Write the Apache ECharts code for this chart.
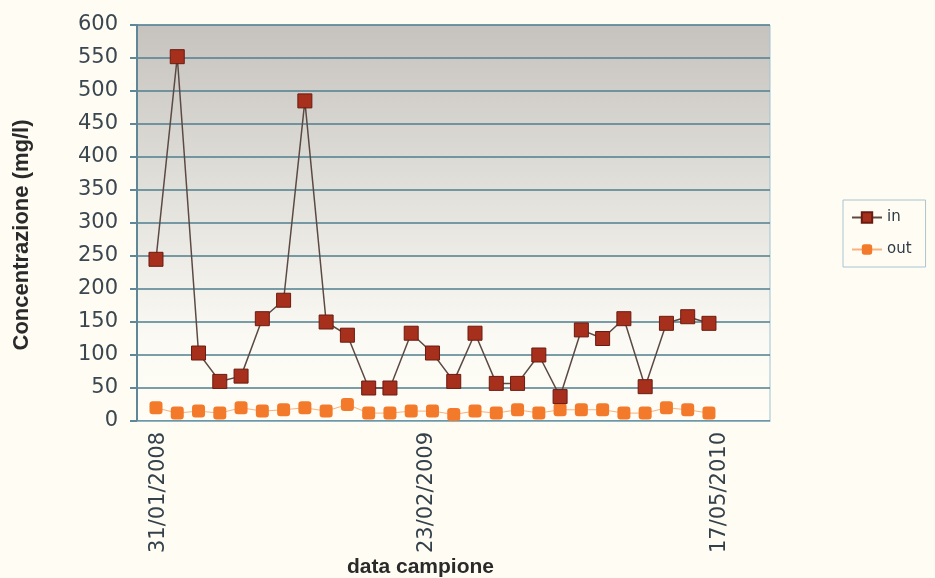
<!DOCTYPE html>
<html>
<head>
<meta charset="utf-8">
<script src="https://cdn.jsdelivr.net/npm/echarts@6/dist/echarts.min.js"></script>
<style>
html,body{margin:0;padding:0;background:#fffdf3;}
#c{width:935px;height:578px;}
</style>
</head>
<body>
<div id="c"></div>
<script>
var inValues = [245, 552, 103, 60, 68, 155, 183, 485, 150, 130, 50, 50, 133, 103, 60, 133, 57, 57, 100, 37, 138, 125, 155, 52, 148, 158, 148];
var outValues = [20, 12, 15, 12, 20, 15, 17, 20, 15, 25, 12, 12, 15, 15, 10, 15, 12, 17, 12, 17, 17, 17, 12, 12, 20, 17, 12];
var dateLabelIndex = [0.1, 12.72, 26.52];
var dateLabels = ['31/01/2008', '23/02/2009', '17/05/2010'];
var yTicks = [0, 50, 100, 150, 200, 250, 300, 350, 400, 450, 500, 550, 600];

var inData = inValues.map(function (v, i) { return [i, v]; });
var outData = outValues.map(function (v, i) { return [i, v]; });

var chart = echarts.init(document.getElementById('c'));
chart.setOption({
  backgroundColor: '#fffdf3',
  animation: false,
  grid: {
    left: 137, top: 25, right: 165, bottom: 157,
    outerBoundsMode: 'none',
    containLabel: false,
    show: true,
    borderColor: '#9fc3d3',
    borderWidth: 1,
    backgroundColor: new echarts.graphic.LinearGradient(0, 0, 0, 1, [
      { offset: 0, color: '#c6c3bf' },
      { offset: 0.45, color: '#e4e2dd' },
      { offset: 0.8, color: '#fbfaf4' },
      { offset: 1, color: '#fffdf5' }
    ])
  },
  legend: {
    left: 843, top: 200,
    orient: 'vertical',
    itemWidth: 30, itemHeight: 13,
    itemGap: 17,
    padding: [10, 14, 10, 8],
    borderColor: '#a8c4d0',
    borderWidth: 1,
    textStyle: { fontFamily: 'DejaVu Sans', fontSize: 15, color: '#2f3a44' },
    data: ['in', 'out']
  },
  xAxis: {
    type: 'value',
    min: -0.893,
    max: 28.87,
    name: 'data campione',
    nameLocation: 'middle',
    nameGap: 136,
    nameMoveOverlap: false,
    nameTextStyle: { fontFamily: 'Liberation Sans', fontWeight: 'bold', fontSize: 21, color: '#2a2a2a', padding: [0, 66, 0, 0] },
    splitLine: { show: false },
    axisLine: { show: true, onZero: false, lineStyle: { color: '#8fb4c4', width: 1 } },
    axisTick: { show: false },
    axisLabel: {
      customValues: dateLabelIndex,
      rotate: 90,
      margin: 11,
      fontFamily: 'DejaVu Sans',
      fontSize: 21,
      color: '#34414b',
      formatter: function (v) {
        for (var k = 0; k < dateLabelIndex.length; k++) {
          if (Math.abs(dateLabelIndex[k] - v) < 0.01) return dateLabels[k];
        }
        return '';
      }
    }
  },
  yAxis: {
    type: 'value',
    min: 0, max: 600, interval: 50,
    name: 'Concentrazione (mg/l)',
    nameLocation: 'middle',
    nameGap: 104,
    nameMoveOverlap: false,
    nameTextStyle: { fontFamily: 'Liberation Sans', fontWeight: 'bold', fontSize: 22, color: '#2a2a2a', padding: [0, 24, 0, 0] },
    axisLine: { show: true, onZero: false, lineStyle: { color: '#5f8798', width: 2 } },
    axisTick: { show: true, length: 7, lineStyle: { color: '#5f8798', width: 2 } },
    axisLabel: {
      margin: 19,
      fontFamily: 'DejaVu Sans',
      fontSize: 21,
      color: '#3a4650',
      formatter: function (v) { return yTicks.indexOf(v) >= 0 ? String(v) : ''; }
    },
    splitLine: { show: true, lineStyle: { color: '#4f7e8e', width: 1.5 } }
  },
  series: [
    {
      name: 'in',
      type: 'line',
      data: inData,
      symbol: 'rect',
      symbolSize: 14,
      itemStyle: { color: '#a7301c', borderColor: '#6a1b10', borderWidth: 1 },
      lineStyle: { color: '#5b4a44', width: 1.5 },
      z: 3
    },
    {
      name: 'out',
      type: 'line',
      data: outData,
      symbol: 'roundRect',
      symbolSize: 13,
      itemStyle: { color: '#f37a2a', borderColor: '#f37a2a', borderWidth: 0 },
      lineStyle: { color: '#f7b27e', width: 1 },
      z: 2
    }
  ]
});
</script>
</body>
</html>
